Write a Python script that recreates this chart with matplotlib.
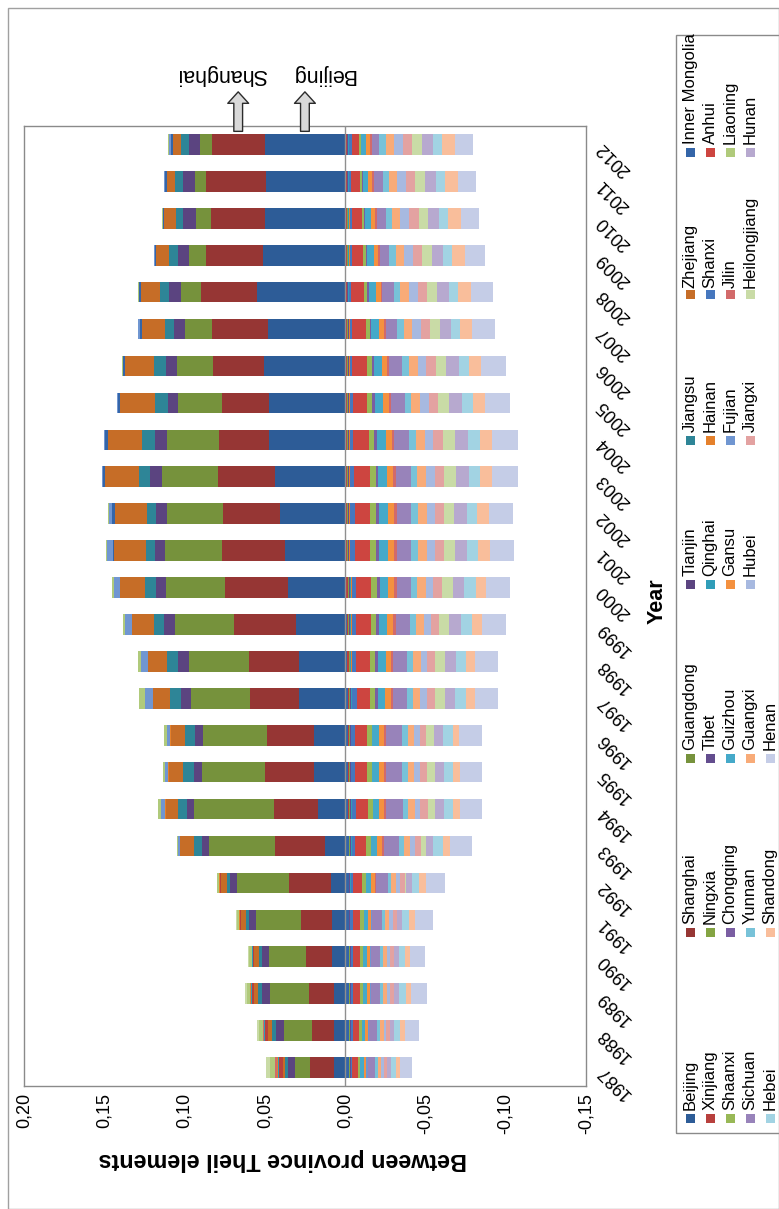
import numpy as np
import matplotlib
matplotlib.use("Agg")
import matplotlib.pyplot as plt
from matplotlib.patches import Rectangle

plt.rcParams['font.family'] = ['Liberation Sans', 'DejaVu Sans']

# ---------------------------------------------------------------- data
years = list(range(1987, 2013))

provinces = ['Beijing', 'Shanghai', 'Guangdong', 'Tianjin', 'Jiangsu', 'Zhejiang',
             'Inner Mongolia', 'Xinjiang', 'Ningxia', 'Tibet', 'Qinghai', 'Hainan',
             'Shanxi', 'Anhui', 'Shaanxi', 'Chongqing', 'Guizhou', 'Gansu',
             'Fujian', 'Jilin', 'Liaoning', 'Sichuan', 'Yunnan', 'Guangxi',
             'Hubei', 'Jiangxi', 'Heilongjiang', 'Hunan', 'Hebei', 'Shandong', 'Henan']

# Theil elements per province, in units of 1e-4 (1987 ... 2012)
beijing   = [71, 71, 71, 82, 82, 86, 127, 166, 193, 193, 287, 287, 303, 353, 376, 405, 435, 473, 473, 503, 478, 551, 512, 501, 492, 501]
shanghai  = [146, 137, 152, 164, 191, 262, 312, 278, 303, 291, 305, 312, 387, 394, 389, 353, 355, 312, 296, 319, 353, 348, 353, 337, 373, 330]
guangdong = [93, 175, 244, 228, 284, 325, 410, 496, 398, 403, 371, 376, 371, 369, 357, 353, 350, 325, 269, 225, 166, 125, 105, 93, 71, 71]
tianjin   = [43, 46, 48, 43, 41, 43, 41, 46, 50, 48, 61, 68, 66, 64, 61, 64, 73, 73, 66, 68, 68, 75, 73, 77, 73, 71]
jiangsu   = [20, 25, 25, 20, 20, 20, 50, 57, 68, 61, 64, 68, 64, 68, 59, 61, 68, 82, 82, 75, 57, 57, 52, 46, 52, 50]
zhejiang  = [15, 25, 30, 30, 30, 40, 86, 75, 86, 91, 109, 118, 137, 152, 198, 198, 212, 214, 218, 182, 143, 114, 80, 75, 50, 46]
inner_mongolia = [-25, -25, -25, -25, -22, -22, -22, -18, -15, -15, -15, -12, -10, -8, 5, 15, 12, 15, 12, 10, 15, 12, 10, 6, 12, 18]
xinjiang  = [25, 18, 12, 8, 6, 4, -5, -8, -8, -8, -10, -10, -10, -12, -12, -12, -12, -12, -12, -12, -12, -10, -12, -12, -10, -10]
ningxia   = [-5, -5, -5, -5, -5, -5, -6, -6, -6, -6, -6, -6, -6, -6, -6, -6, -6, -5, -5, -5, -5, -4, -4, -4, -4, -4]
tibet     = [-5, -5, -5, -5, -5, -5, -5, -5, -5, -5, -5, -5, -5, -5, -5, -5, -5, -5, -5, -4, -4, -4, -4, -4, -4, -4]
qinghai   = [8, 6, 5, 4, 3, -2, -3, -4, -4, -4, -4, -4, -4, -4, -4, -4, -4, -4, -4, -4, -4, -3, -3, -3, -3, -3]
hainan    = [5, 4, 3, 3, 3, 3, 3, 4, 3, 2, -3, -4, -5, -5, -5, -5, -5, -5, -5, -5, -5, -5, -5, -5, -5, -5]
shanxi    = [-10, -12, -14, -14, -15, -18, -22, -25, -25, -25, -28, -28, -28, -28, -28, -28, -25, -20, -15, -15, -12, -10, -12, -15, -12, -15]
anhui     = [-35, -40, -45, -45, -48, -55, -70, -75, -75, -75, -85, -85, -90, -92, -95, -95, -95, -95, -92, -90, -85, -80, -70, -60, -55, -45]
shaanxi   = [-15, -16, -18, -18, -20, -22, -28, -30, -30, -30, -32, -32, -35, -36, -38, -38, -38, -36, -32, -30, -25, -22, -18, -15, -12, -10]
chongqing = [0, 0, 0, 0, 0, 0, 0, 0, 0, 0, -15, -16, -18, -18, -18, -18, -16, -15, -14, -13, -12, -10, -8, -6, -5, -5]
guizhou   = [-20, -22, -25, -25, -28, -32, -40, -42, -42, -42, -48, -50, -52, -54, -56, -56, -56, -55, -52, -50, -46, -44, -42, -38, -35, -30]
gansu     = [-15, -16, -18, -18, -20, -22, -28, -30, -30, -30, -33, -34, -35, -36, -38, -38, -38, -38, -36, -34, -32, -30, -28, -26, -24, -22]
fujian    = [-10, -8, -5, -3, -2, 2, 10, 22, 18, 22, 50, 45, 40, 38, 35, 20, 8, 6, 4, 4, 8, 4, 4, 2, 4, 8]
jilin     = [10, 6, 4, -3, -5, -8, -10, -12, -12, -12, -15, -15, -16, -16, -16, -16, -15, -14, -12, -12, -10, -10, -10, -10, -12, -15]
liaoning  = [35, 24, 20, 18, 14, 11, 10, 20, 13, 17, 34, 19, 17, 14, 12, 8, 3, 4, 2, 2, 4, 2, 2, 1, 2, 6]
sichuan   = [-49, -52, -58, -56, -60, -75, -95, -105, -105, -105, -85, -85, -87, -89, -90, -90, -93, -95, -86, -81, -72, -70, -60, -56, -52, -45]
yunnan    = [-15, -16, -18, -18, -20, -22, -30, -32, -32, -32, -36, -36, -38, -40, -42, -42, -42, -42, -42, -42, -40, -40, -40, -40, -40, -41]
guangxi   = [-20, -22, -25, -24, -26, -30, -38, -40, -40, -40, -48, -48, -50, -52, -54, -54, -56, -56, -56, -56, -54, -54, -52, -50, -50, -50]
hubei     = [-15, -18, -20, -20, -22, -25, -32, -35, -35, -35, -42, -42, -45, -48, -50, -50, -52, -52, -52, -52, -52, -55, -55, -55, -55, -57]
jiangxi   = [-20, -22, -25, -24, -26, -30, -38, -46, -46, -42, -50, -50, -52, -55, -56, -56, -58, -58, -58, -58, -56, -58, -58, -58, -57, -57]
heilongjiang = [23, 10, 8, 4, 4, -5, -30, -45, -48, -50, -60, -60, -63, -66, -70, -68, -74, -76, -71, -68, -62, -66, -61, -60, -62, -62]
hunan     = [-25, -28, -30, -30, -32, -36, -45, -55, -55, -55, -66, -66, -70, -72, -75, -75, -80, -82, -79, -77, -71, -72, -69, -67, -67, -67]
hebei     = [-30, -35, -40, -38, -42, -48, -63, -60, -60, -60, -65, -62, -70, -70, -70, -67, -70, -72, -66, -61, -55, -57, -55, -54, -57, -57]
shandong  = [-25, -30, -35, -32, -35, -40, -45, -40, -40, -40, -58, -59, -65, -68, -72, -70, -74, -78, -78, -78, -77, -82, -81, -81, -83, -82]
henan     = [-80, -90, -100, -95, -113, -122, -135, -140, -140, -140, -145, -145, -147, -149, -154, -154, -160, -164, -157, -152, -142, -133, -122, -116, -113, -111]

series = [beijing, shanghai, guangdong, tianjin, jiangsu, zhejiang,
          inner_mongolia, xinjiang, ningxia, tibet, qinghai, hainan,
          shanxi, anhui, shaanxi, chongqing, guizhou, gansu,
          fujian, jilin, liaoning, sichuan, yunnan, guangxi,
          hubei, jiangxi, heilongjiang, hunan, hebei, shandong, henan]

colors = ['#2D5C97', '#963634', '#76923C', '#5B4480', '#2E8597', '#C66D27',
          '#3465A8', '#B8403D', '#84A443', '#634D8E', '#309DB8', '#E5812C',
          '#4677BE', '#CD4540', '#98B856', '#7A5EA2', '#45A9C9', '#F4913F',
          '#7096D1', '#D26A6A', '#B0CA7B', '#9883BA', '#78C2D8', '#F8AB78',
          '#A7B9E0', '#E3A2A1', '#C9DBA6', '#B7A9CF', '#A2D3E3', '#F9BE9B', '#C5CDE7']

value_ticks = [0.20, 0.15, 0.10, 0.05, 0.00, -0.05, -0.10, -0.15]

# ---------------------------------------------------------------- figure
W, H = 779, 1209
fig = plt.figure(figsize=(W / 100, H / 100), dpi=100)


def fx(px):
    return px / W


def fy(py):
    return 1 - py / H


ax = fig.add_axes([fx(24), fy(1086), fx(586) - fx(24), fy(126) - fy(1086)])

ypos = np.arange(len(years))
pos_base = np.zeros(len(years))
neg_base = np.zeros(len(years))
for name, vals, col in zip(provinces, series, colors):
    v = np.array(vals, dtype=float) * 1e-4
    left = np.where(v >= 0, pos_base, neg_base)
    ax.barh(ypos, v, left=left, height=0.56, color=col, edgecolor='none', zorder=2)
    pos_base += np.where(v > 0, v, 0)
    neg_base += np.where(v < 0, v, 0)

ax.axvline(0, color='#8f8f8f', lw=1.0, zorder=3)
ax.set_xlim(0.20, -0.15)
ax.set_ylim(-0.5, len(years) - 0.5)

for s in ax.spines.values():
    s.set_color('#8a8a8a')
    s.set_linewidth(1.0)

ax.set_xticks(value_ticks)
ax.set_xticklabels([('%.2f' % t).replace('.', ',') if abs(t) > 1e-9 else '0,00'
                    for t in value_ticks])
ax.tick_params(axis='x', length=0, labelrotation=90, labelsize=13, pad=5)

ax.yaxis.tick_right()
ax.set_yticks(ypos)
ax.set_yticklabels([str(y) for y in years])
ax.tick_params(axis='y', length=0, labelsize=13, pad=10)
for lbl in ax.get_yticklabels():
    lbl.set_rotation(135)
    lbl.set_rotation_mode('anchor')
    lbl.set_ha('right')
    lbl.set_va('center')

# axis titles
fig.text(fx(283), fy(1160), 'Between province Theil elements', rotation=180,
         ha='center', va='center', fontsize=16.8, fontweight='bold')
fig.text(fx(657), fy(601), 'Year', rotation=90, ha='center', va='center',
         fontsize=15.5, fontweight='bold')

# arrows marking the Beijing and Shanghai segments of the last bar
last = len(years) - 1
bj_mid = beijing[last] * 1e-4 / 2
sh_mid = (beijing[last] + shanghai[last] / 2) * 1e-4
for xm in (bj_mid, sh_mid):
    ax.annotate('', xy=(xm, last + 1.5), xytext=(xm, last + 0.28),
                arrowprops=dict(arrowstyle='simple,head_length=0.55,head_width=1.0,tail_width=0.42',
                                mutation_scale=15, fc='#d9d9d9', ec='#2b2b2b', lw=1.0),
                annotation_clip=False, zorder=5)
fig.text(fx(323), fy(75), 'Beijing', rotation=180, ha='center', va='center', fontsize=15.5)
fig.text(fx(222), fy(75), 'Shanghai', rotation=180, ha='center', va='center', fontsize=15.5)

# legend, drawn sideways to suit the rotated layout
leg_box = Rectangle((fx(676), fy(1133)), fx(790) - fx(676), fy(35) - fy(1133),
                    transform=fig.transFigure, fill=False, ec='#8a8a8a', lw=1.0,
                    clip_on=False)
fig.patches.append(leg_box)
group_y = [1118, 932, 758, 584, 440, 295, 152]
row_x = [690, 710, 730, 750, 770]
ncol = 7
for i, (name, col) in enumerate(zip(provinces, colors)):
    r, g = divmod(i, ncol)
    xc, yc = row_x[r], group_y[g]
    sq = 9
    fig.patches.append(Rectangle((fx(xc - sq / 2), fy(yc + sq / 2)), sq / W, sq / H,
                                 transform=fig.transFigure, fc=col, ec='none'))
    fig.text(fx(xc), fy(yc - sq / 2 - 3), name, rotation=90, rotation_mode='anchor',
             ha='left', va='center', fontsize=12)

# outer frame
fig.patches.append(Rectangle((fx(8), 0), 1 - fx(8), fy(8), transform=fig.transFigure,
                             fill=False, ec='#a0a0a0', lw=1.0))

fig.savefig('out.png', dpi=100)
